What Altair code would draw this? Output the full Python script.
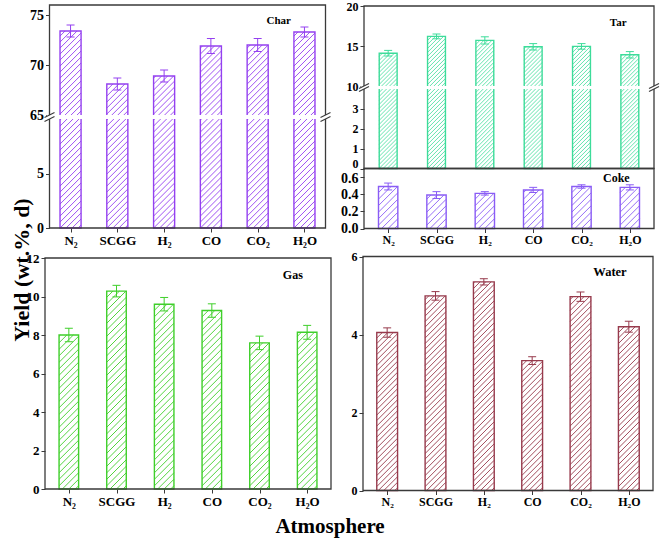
import json
import numpy as np
import pandas as pd
import altair as alt

# ---------------- data ----------------
categories = ["N₂", "SCGG", "H₂", "CO", "CO₂", "H₂O"]

char_values = [73.4, 68.1, 68.9, 71.9, 72.0, 73.3]
char_errors = [0.6, 0.6, 0.6, 0.75, 0.65, 0.5]
tar_values = [14.1, 16.2, 15.7, 14.9, 14.95, 13.9]
tar_errors = [0.35, 0.3, 0.45, 0.4, 0.35, 0.4]
coke_values = [0.49, 0.39, 0.41, 0.45, 0.49, 0.48]
coke_errors = [0.04, 0.04, 0.02, 0.03, 0.02, 0.03]
gas_values = [8.0, 10.28, 9.6, 9.27, 7.59, 8.14]
gas_errors = [0.35, 0.3, 0.35, 0.35, 0.35, 0.36]
water_values = [4.05, 4.99, 5.35, 3.33, 4.97, 4.2]
water_errors = [0.12, 0.11, 0.08, 0.1, 0.12, 0.14]

char_ticks = [0, 5, 65, 70, 75]
tar_ticks = [0, 1, 2, 3, 10, 15, 20]
coke_ticks = [0.0, 0.2, 0.4, 0.6]
gas_ticks = [0, 2, 4, 6, 8, 10, 12]
water_ticks = [0, 2, 4, 6]

y_title = "Yield (wt.%, d)"
x_title = "Atmosphere"

# ---------------- layout / style ----------------
W, H = 661, 541
FONT = "Liberation Serif"
FRAME = "#3a3a3a"

panels = [
    dict(name="Char", values=char_values, errors=char_errors, color="#9440f0", ticks=char_ticks,
         xdom=[-0.45, 5.45], xrng=[49.5, 325.5], ydom=[0, 10, 65, 76], yrng=[228, 119, 115, 5],
         bw=0.45, spacing=6.0, hw=0.9, xaxis=True, lab=(4.45, 74.4), lsize=11,
         fmt="d", ysize=14, xsize=13, yoff=0),
    dict(name="Tar", values=tar_values, errors=tar_errors, color="#3ddc9a", ticks=tar_ticks,
         xdom=[-0.5, 5.5], xrng=[364, 654], ydom=[0, 4, 10, 20], yrng=[168.5, 89, 86, 6],
         bw=0.37, spacing=4.0, hw=0.8, xaxis=False, lab=(4.76, 17.9), lsize=11,
         fmt="d", ysize=12, xsize=12,
         yoff={"condition": {"test": "datum.value == 0", "value": -5}, "value": 0}),
    dict(name="Coke", values=coke_values, errors=coke_errors, color="#8a5cf5", ticks=coke_ticks,
         xdom=[-0.5, 5.5], xrng=[364, 654], ydom=[0, 0.7], yrng=[228.5, 168.5],
         bw=0.4, spacing=6.5, hw=0.9, xaxis=True, lab=(4.72, 0.59), lsize=12,
         fmt=".1f", ysize=14, xsize=12,
         yoff={"condition": {"test": "datum.value > 0.5", "value": 1.5}, "value": 0}),
    dict(name="Gas", values=gas_values, errors=gas_errors, color="#3fcf2a", ticks=gas_ticks,
         xdom=[-0.5, 5.5], xrng=[45, 331], ydom=[0, 12], yrng=[489, 258],
         bw=0.41, spacing=6.5, hw=0.9, xaxis=True, lab=(4.70, 11.1), lsize=12,
         fmt="d", ysize=13, xsize=13, yoff=0),
    dict(name="Water", values=water_values, errors=water_errors, color="#973a4c", ticks=water_ticks,
         xdom=[-0.5, 5.5], xrng=[363, 653], ydom=[0, 6], yrng=[490.5, 256.5],
         bw=0.43, spacing=5.5, hw=0.9, xaxis=True, lab=(4.61, 5.6), lsize=12.5,
         fmt="d", ysize=12, xsize=12, yoff=0),
]

label_expr = json.dumps(categories, ensure_ascii=False) + "[datum.value]"


def hatch(p):
    xdom, xrng, ydom, yrng = p["xdom"], p["xrng"], p["ydom"], p["yrng"]
    kx = (xrng[1] - xrng[0]) / (xdom[1] - xdom[0])
    yd = np.array(ydom, float)
    yr = np.array(yrng, float)

    def xpix(d):
        return xrng[0] + (d - xdom[0]) * kx

    def xdat(q):
        return xdom[0] + (q - xrng[0]) / kx

    def ypix(d):
        return float(np.interp(d, yd, yr))

    def ydat(q):
        return float(np.interp(q, yr[::-1], yd[::-1]))

    rows = []
    s = p["spacing"]
    for i, v in enumerate(p["values"]):
        xl, xr = xpix(i - p["bw"] / 2), xpix(i + p["bw"] / 2)
        yb, yt = ypix(ydom[0]), ypix(v)
        w = xr - xl
        c = yb + w - s / 2
        while c > yt:
            a = max(xl, xl + c - yb)
            b = min(xr, xl + c - yt)
            if b - a > 0.3:
                rows.append(dict(hx1=xdat(a), hy1=ydat(c - (a - xl)),
                                 hx2=xdat(b), hy2=ydat(c - (b - xl))))
            c -= s
    return pd.DataFrame(rows)


def make_panel(p):
    col = p["color"]
    xs = alt.Scale(domain=p["xdom"], range=p["xrng"], nice=False, zero=False)
    ys = alt.Scale(domain=p["ydom"], range=p["yrng"], nice=False, zero=False)
    if p["xaxis"]:
        x_axis = alt.Axis(orient="bottom", offset=p["yrng"][0] - H, values=list(range(len(categories))),
                          labelExpr=label_expr, title=None, domain=False, grid=False,
                          ticks=True, tickSize=4, tickColor=FRAME, tickWidth=1,
                          labelFont=FONT, labelFontWeight="bold", labelFontSize=p["xsize"],
                          labelColor="black", labelPadding=2, labelFlush=False, labelOverlap=False)
    else:
        x_axis = None
    y_axis = alt.Axis(orient="left", offset=-p["xrng"][0], values=p["ticks"], format=p["fmt"],
                      title=None, domain=False, grid=False, ticks=True, tickSize=4,
                      tickColor=FRAME, tickWidth=1, labelFont=FONT, labelFontWeight="bold",
                      labelFontSize=p["ysize"], labelColor="black", labelPadding=2,
                      labelFlush=False, labelOverlap=False, labelOffset=p["yoff"])

    def X(f):
        return alt.X(f, scale=xs, axis=x_axis)

    def Y(f):
        return alt.Y(f, scale=ys, axis=y_axis)

    df = pd.DataFrame({"i": list(range(len(categories))), "cat": categories,
                       "v": p["values"], "e": p["errors"]})
    half = p["bw"] / 2
    kx = (p["xrng"][1] - p["xrng"][0]) / (p["xdom"][1] - p["xdom"][0])
    cap = 4.0 / kx

    base = alt.Chart(df).transform_calculate(
        xl=f"datum.i - {half}", xr=f"datum.i + {half}", y0=f"{p['ydom'][0]}",
        lo="datum.v - datum.e", hi="datum.v + datum.e",
        cl=f"datum.i - {cap}", cr=f"datum.i + {cap}")

    bars = base.mark_rect(fill="white", stroke=col, strokeWidth=1.4).encode(
        x=X("xl:Q"), x2="xr:Q", y=Y("y0:Q"), y2="v:Q")

    hd = hatch(p)
    hatch_layer = alt.Chart(hd).mark_rule(color=col, strokeWidth=p["hw"]).encode(
        x=X("hx1:Q"), x2="hx2:Q", y=Y("hy1:Q"), y2="hy2:Q")

    err = base.mark_rule(color=col, strokeWidth=1).encode(
        x=X("i:Q"), y=Y("lo:Q"), y2="hi:Q")
    cap_hi = base.mark_rule(color=col, strokeWidth=1).encode(
        x=X("cl:Q"), x2="cr:Q", y=Y("hi:Q"))
    cap_lo = base.mark_rule(color=col, strokeWidth=1).encode(
        x=X("cl:Q"), x2="cr:Q", y=Y("lo:Q"))

    fdf = pd.DataFrame({"fx0": [p["xdom"][0]], "fx1": [p["xdom"][1]],
                        "fy0": [p["ydom"][0]], "fy1": [p["ydom"][-1]]})
    frame = alt.Chart(fdf).mark_rect(fillOpacity=0, stroke=FRAME, strokeWidth=1.3).encode(
        x=X("fx0:Q"), x2="fx1:Q", y=Y("fy0:Q"), y2="fy1:Q")

    layers = [bars, hatch_layer, err, cap_hi, cap_lo, frame]

    if len(p["ydom"]) == 4:
        pad = 0.06
        gdf = pd.DataFrame({"gx0": [p["xdom"][0] - pad], "gx1": [p["xdom"][1] + pad],
                            "gy0": [p["ydom"][1]], "gy1": [p["ydom"][2]]})
        gap = alt.Chart(gdf).mark_rect(fill="white", strokeWidth=0).encode(
            x=X("gx0:Q"), x2="gx1:Q", y=Y("gy0:Q"), y2="gy1:Q")
        sdf = pd.DataFrame({"sx": [p["xdom"][0], p["xdom"][0], p["xdom"][1], p["xdom"][1]],
                            "sy": [p["ydom"][1], p["ydom"][2], p["ydom"][1], p["ydom"][2]]})
        slash = alt.Chart(sdf).mark_rule(color=FRAME, strokeWidth=1.1, xOffset=-5, x2Offset=5,
                                         yOffset=2.5, y2Offset=-2.5).encode(
            x=X("sx:Q"), x2="sx:Q", y=Y("sy:Q"), y2="sy:Q")
        layers += [gap, slash]

    ldf = pd.DataFrame({"lx": [p["lab"][0]], "ly": [p["lab"][1]], "t": [p["name"]]})
    label = alt.Chart(ldf).mark_text(font=FONT, fontWeight="bold", fontSize=p["lsize"],
                                     color="black", align="center", baseline="middle").encode(
        x=X("lx:Q"), y=Y("ly:Q"), text="t:N")
    layers.append(label)
    return alt.layer(*layers)


panel_charts = [make_panel(p) for p in panels]

ytitle = alt.Chart(pd.DataFrame({"t": [y_title]})).mark_text(
    angle=270, font=FONT, fontWeight="bold", fontSize=22, color="black",
    align="center", baseline="middle").encode(text="t:N", x=alt.value(22), y=alt.value(270))
xtitle = alt.Chart(pd.DataFrame({"t": [x_title]})).mark_text(
    font=FONT, fontWeight="bold", fontSize=21, color="black",
    align="center", baseline="middle").encode(text="t:N", x=alt.value(330), y=alt.value(527))

chart = alt.layer(*panel_charts, ytitle, xtitle).resolve_scale(
    x="independent", y="independent").resolve_axis(
    x="independent", y="independent").properties(
    width=W, height=H, padding=0, autosize=alt.AutoSizeParams(type="none"),
    background="white").configure_view(stroke=None)

chart.save("out.html", embed_options={"renderer": "svg", "actions": False})
